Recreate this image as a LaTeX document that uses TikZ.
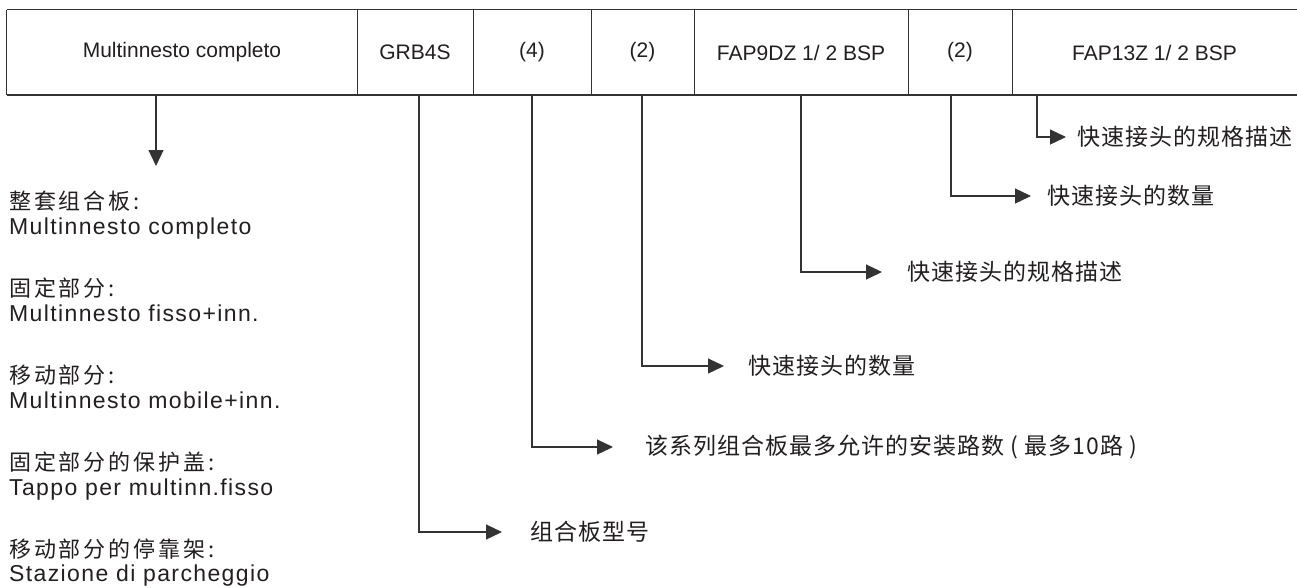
\documentclass[tikz,border=0pt]{standalone}
\usepackage{fontspec}
\setmainfont{Liberation Sans}
\newfontfamily\cjkL[LetterSpace=13]{Noto Sans CJK SC}
\newfontfamily\cjkR[LetterSpace=4.5]{Noto Sans CJK SC}
\newfontfamily\latL[LetterSpace=6]{Liberation Sans}
\usetikzlibrary{arrows.meta}
\definecolor{ink}{HTML}{231F20}
\definecolor{linec}{HTML}{333333}
\begin{document}
\begin{tikzpicture}[x=1pt,y=-1pt,
  cell/.style={inner sep=0pt, minimum height=85pt, text=ink, font=\fontsize{21}{25}\selectfont},
  boxline/.style={draw=linec, line width=1.2pt},
  conn/.style={draw=linec, line width=1.2pt, -{Triangle[length=16pt,width=15pt]}},
  lbl/.style={anchor=west, inner ysep=0pt, text=ink, font=\cjkR\fontsize{23}{27}\selectfont},
  ltc/.style={anchor=west, inner sep=0pt, text=ink, font=\cjkL\fontsize{22}{26}\selectfont},
  ltl/.style={anchor=base west, inner sep=0pt, text=ink, font=\latL\fontsize{23}{27}\selectfont}]
\useasboundingbox (0,0) rectangle (1297,587);
\fill[white] (0,0) rectangle (1297,587);
% cells
\node[cell, minimum width=350pt] (c1) at (182,52.5) {Multinnesto completo};
\node[cell, minimum width=116pt] (c2) at (415,52.5) {GRB4S};
\node[cell, minimum width=118pt] (c3) at (532,52.5) {(4)};
\node[cell, minimum width=103pt] (c4) at (642.5,52.5) {(2)};
\node[cell, minimum width=214pt] (c5) at (801,52.5) {FAP9DZ 1/ 2 BSP};
\node[cell, minimum width=104pt] (c6) at (960,52.5) {(2)};
\node[cell, minimum width=285pt] (c7) at (1154.5,52.5) {FAP13Z 1/ 2 BSP};
% box outline
\draw[boxline] (c1.north west) -- (c7.north east);
\draw[boxline, line width=2.2pt] (c1.south west) -- (c7.south east);
\draw[boxline] (c1.north west) -- (c1.south west);
\foreach \c in {c1,c2,c3,c4,c5,c6}{\draw[boxline] (\c.north east) -- (\c.south east);}
% labels
\node[lbl, inner xsep=28pt] (l2) at (502,532) {组合板型号};
\node[lbl, inner xsep=32pt] (l3) at (613,447) {该系列组合板最多允许的安装路数 ( 最多10路 )};
\node[lbl, inner xsep=24pt] (l4) at (724,366) {快速接头的数量};
\node[lbl, inner xsep=25pt] (l5) at (882,272) {快速接头的规格描述};
\node[lbl, inner xsep=16pt] (l6) at (1031,196) {快速接头的数量};
\node[lbl, inner xsep=11pt] (l7) at (1066,137) {快速接头的规格描述};
% connectors
\coordinate (d1) at (156,166);
\draw[conn] (c1.south -| d1) -- (d1);
\draw[conn] (c2.south) ++(4,0) |- (l2.west);
\draw[conn] (c3.south) |- (l3.west);
\draw[conn] (c4.south) ++(-0.5,0) |- (l4.west);
\draw[conn] (c5.south) |- (l5.west);
\draw[conn] (c6.south) ++(-9,0) |- (l6.west);
\draw[conn] (c7.south) ++(-117.5,0) |- (l7.west);
% left texts
\node[ltc] (t1) at (9,201) {整套组合板:};
\node[ltl] (t2) at (9,234) {Multinnesto completo};
\node[ltc] (t3) at (9,288) {固定部分:};
\node[ltl] (t4) at (9,321) {Multinnesto fisso+inn.};
\node[ltc] (t5) at (9,375) {移动部分:};
\node[ltl] (t6) at (9,408) {Multinnesto mobile+inn.};
\node[ltc] (t7) at (9,462) {固定部分的保护盖:};
\node[ltl] (t8) at (9,495) {Tappo per multinn.fisso};
\node[ltc] (t9) at (9,549) {移动部分的停靠架:};
\node[ltl] (t10) at (9,581) {Stazione di parcheggio};
\end{tikzpicture}
\end{document}
